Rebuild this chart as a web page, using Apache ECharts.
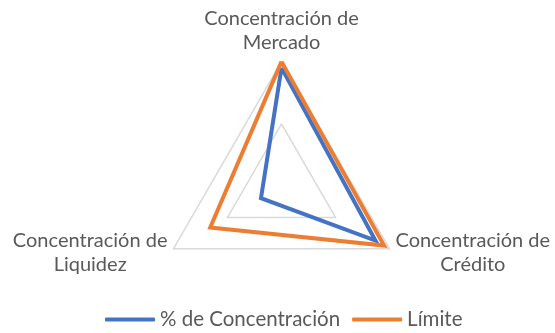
<!DOCTYPE html>
<html>
<head>
<meta charset="utf-8">
<script src="https://cdn.jsdelivr.net/npm/echarts@6/dist/echarts.min.js"></script>
<style>
  html, body { margin: 0; padding: 0; background: #fff; }
  #chart { width: 555px; height: 333px; }
</style>
</head>
<body>
<div id="chart"></div>
<script>
// indicadores, en el orden en que ECharts los reparte (arriba, abajo-izq, abajo-der)
const indicators = ['Concentración de\nMercado', 'Concentración de\nLiquidez', 'Concentración de\nCrédito'];
const seriesNames = ['% de Concentración', 'Límite'];
const concentracion = [0.95, 0.19, 0.87];
const limite = [1.0, 0.66, 0.95];

const FONT = 'Lato';
const GRAY = '#595959';

let chart = echarts.init(document.getElementById('chart'));
chart.setOption({
  animation: false,
  color: ['#4472C4', '#ED7D31'],
  legend: {
    data: seriesNames,
    left: 105,
    top: 309,
    padding: 0,
    itemWidth: 50,
    itemHeight: 4,
    itemGap: 12,
    icon: 'roundRect',
    textStyle: { fontFamily: FONT, fontSize: 20.5, color: GRAY }
  },
  radar: {
    center: [281.5, 186.3],
    radius: 124.7,
    startAngle: 90,
    shape: 'polygon',
    splitNumber: 2,
    nameGap: 7,
    indicator: indicators.map(n => ({ name: n, min: 0, max: 1 })),
    axisName: {
      fontFamily: FONT,
      fontSize: 20,
      color: GRAY,
      lineHeight: 24,
      formatter: (name) => name.split('\n').map(l => '{a|' + l + '}').join('\n'),
      rich: { a: { align: 'center', fontFamily: FONT, fontSize: 20, color: GRAY, lineHeight: 24 } }
    },
    axisLine: { show: false },
    axisTick: { show: false },
    splitArea: { show: false },
    splitLine: { lineStyle: { color: '#D9D9D9', width: 1.5 } }
  },
  series: [{
    type: 'radar',
    symbol: 'none',
    lineStyle: { width: 4, join: 'miter' },
    data: [
      { name: seriesNames[0], value: concentracion },
      { name: seriesNames[1], value: limite }
    ]
  }]
});
</script>
</body>
</html>
